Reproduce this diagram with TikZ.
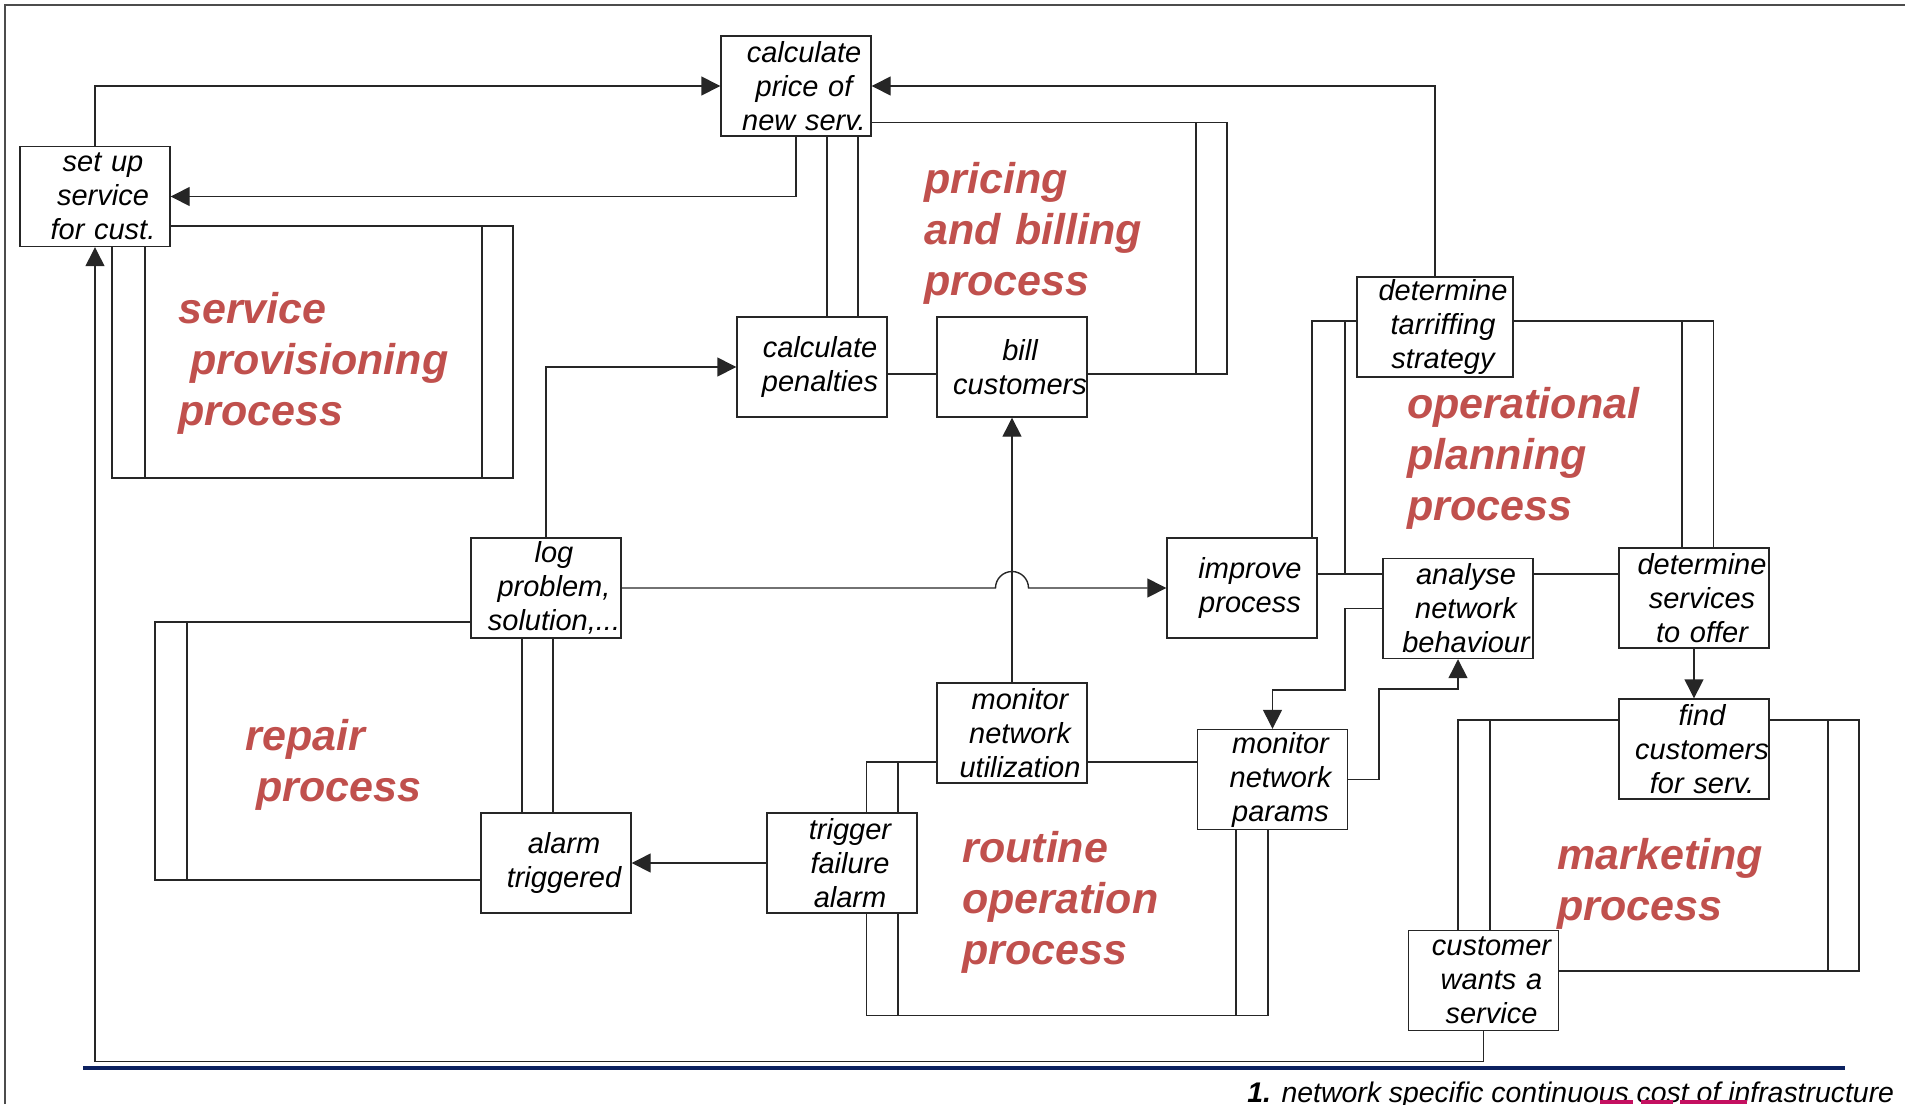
\documentclass[tikz,border=0pt]{standalone}
\usepackage{fontspec}
\setmainfont{Liberation Sans}
\usepackage{xcolor}
\usepackage{tikz}
\usetikzlibrary{shapes,arrows.meta,positioning,calc}
\definecolor{procred}{RGB}{192, 80, 77}
\definecolor{rulenavy}{RGB}{12, 33, 96}
\definecolor{spellmark}{RGB}{196, 16, 96}

\begin{document}
\begin{tikzpicture}[x=0.5pt, y=-0.5pt,
    task/.style={rectangle, draw=black!85, line width=0.7pt, text width=75pt, inner xsep=0pt, inner ysep=0pt, minimum height=50pt, align=center, font=\fontsize{14.5pt}{17pt}\selectfont\itshape, execute at begin node={\leftskip=8pt plus 1fil\rightskip=0pt plus 1fil\parfillskip=0pt}},
    lane/.style={draw=black!85, line width=0.7pt},
    flow/.style={lane, -{Triangle[length=9.5pt, width=9.5pt]}},
    proclabel/.style={anchor=base west, inner sep=0pt, text width=220pt, align=left, text=procred, font=\fontsize{21.5pt}{25.5pt}\selectfont\bfseries\itshape}]
    \useasboundingbox (0, 0) rectangle (1905, 1104);
    \draw[gray!60!black, line width=0.9pt] (5, 1104) -- (5, 5) -- (1905, 5);

    \node[task] (price) at (796, 86) {calculate\\price of\\new serv.};
    
    \node[task] (setup) at (95, 196.5) {set up\\service\\for cust.};
    
    \node[task] (penalties) at (812, 367) {calculate\\penalties};
    
    \node[task, right of=penalties, node distance=100pt] (bill) {bill\\customers};
    
    \node[task, text width=78pt] (tariff) at (1435, 327) {determine\\tarriffing\\strategy};
    
    \node[task] (log) at (546, 588) {log\\problem,\\solution,...};
    
    \node[task] (improve) at (1242, 588) {improve\\process};
    
    \node[task] (analyse) at (1458, 608.5) {analyse\\network\\behaviour};
    
    \node[task] (services) at (1694, 598) {determine\\services\\to offer};
    
    \node[task, below of=services, node distance=75.5pt] (find) {find\\customers\\for serv.};
    
    \node[task, below of=bill, node distance=183pt] (util) {monitor\\network\\utilization};
    
    \node[task] (params) at (1272.5, 779.5) {monitor\\network\\params};
    
    \node[task] (alarm) at (556, 863) {alarm\\triggered};
    
    \node[task, right of=alarm, node distance=143pt] (trigger) {trigger\\failure\\alarm};
    
    \node[task] (wants) at (1483.5, 980.5) {customer\\wants a\\service};

    \node[proclabel] (provlabel) at (178, 323) {service\\\hspace*{6pt}provisioning\\process};
    \node[proclabel] (pricelabel) at (924, 193) {pricing\\and billing\\process};
    \node[proclabel] (planlabel) at (1407, 418) {operational\\planning\\process};
    \node[proclabel] (repairlabel) at (245, 750) {repair\\\hspace*{5.5pt}process};
    \node[proclabel] (routinelabel) at (962, 862) {routine\\operation\\process};
    \node[proclabel] (marketlabel) at (1557, 869) {marketing\\process};

    \draw[flow] (setup.north) |- (price.west);
    \draw[flow] (tariff.north) |- (price.east);
    \draw[flow] (price.south) |- (setup.east);
    \draw[lane] (827,0 |- price.south) -- (827,0 |- penalties.north);
    \draw[lane] (858,0 |- price.south) -- (858,0 |- penalties.north);
    \draw[lane] (penalties.east |- 0,374) -- (bill.west |- 0,374);
    \draw[lane] (bill.east |- 0,374) -- (1227,374) -- (1227,122.5) -- (price.east |- 0,122.5);
    \draw[lane] (1196,122.5) -- (1196,374);
    \draw[flow] (log.north) |- (penalties.west);
    \draw[flow] (util.north) -- (bill.south);
    \draw[flow] (log.east) -- ($(util.north |- log.east)+(-16.5,0)$) arc[start angle=180, end angle=360, radius=16.5] -- (improve.west);

    \draw[lane] (setup.east |- 0,226) -- (513,226) -- (513,478) -- (112,478) -- (112,0 |- setup.south);
    \draw[lane] (482,226) -- (482,478);
    \draw[lane] (145,0 |- setup.south) -- (145,478);

    \draw[lane] (log.west |- 0,622) -- (155,622) -- (155,880) -- (alarm.west |- 0,880);
    \draw[lane] (187,622) -- (187,880);
    \draw[lane] (522,0 |- log.south) -- (522,0 |- alarm.north);
    \draw[lane] (553,0 |- log.south) -- (553,0 |- alarm.north);
    \draw[flow] (trigger.west) -- (alarm.east);

    \draw[lane] (util.west |- 0,762) -- (866.5,762) -- (866.5,0 |- trigger.north);
    \draw[lane] (898,762) -- (898,0 |- trigger.north);
    \draw[lane] (866.5,0 |- trigger.south) -- (866.5,1015.5) -- (1268,1015.5) -- (1268,0 |- params.south);
    \draw[lane] (898,0 |- trigger.south) -- (898,1015.5);
    \draw[lane] (1236,0 |- params.south) -- (1236,1015.5);
    \draw[lane] (util.east |- 0,762) -- (params.west |- 0,762);
    \draw[flow] (analyse.west) -| (1345,690) -| (params.north);
    \draw[flow] (params.east) -| (1379,689) -| (analyse.south);

    \draw[lane] (tariff.west |- 0,321) -- (1312,321) -- (1312,0 |- improve.north);
    \draw[lane] (1345,321) -- (1345,574);
    \draw[lane] (improve.east |- 0,574) -- (analyse.west |- 0,574);
    \draw[lane] (analyse.east |- 0,574) -- (services.west |- 0,574);
    \draw[lane] (tariff.east |- 0,321) -- (1713.5,321) -- (1713.5,0 |- services.north);
    \draw[lane] (1682,321) -- (1682,0 |- services.north);

    \draw[flow] (services.south) -- (find.north);
    \draw[lane] (find.west |- 0,720) -- (1458,720) -- (1458,0 |- wants.north);
    \draw[lane] (1490,720) -- (1490,0 |- wants.north);
    \draw[lane] (find.east |- 0,720) -- (1859,720) -- (1859,971) -- (wants.east |- 0,971);
    \draw[lane] (1828,720) -- (1828,971);
    \draw[flow] (wants.south) -- ++(0,30) -| (setup.south);

    \draw[rulenavy, line width=2pt] (83, 1068) -- (1845, 1068);
    \node[anchor=base west, inner sep=0pt, font=\fontsize{14.2pt}{17pt}\selectfont\itshape] (note) at (1247, 1102) {\textbf{1.} network specific continuous cost of infrastructure};
    \draw[spellmark, line width=2.2pt] (1600, 1101.8) -- (1633, 1101.8) (1641, 1101.8) -- (1673, 1101.8) (1680, 1101.8) -- (1747, 1101.8);
\end{tikzpicture}
\end{document}
